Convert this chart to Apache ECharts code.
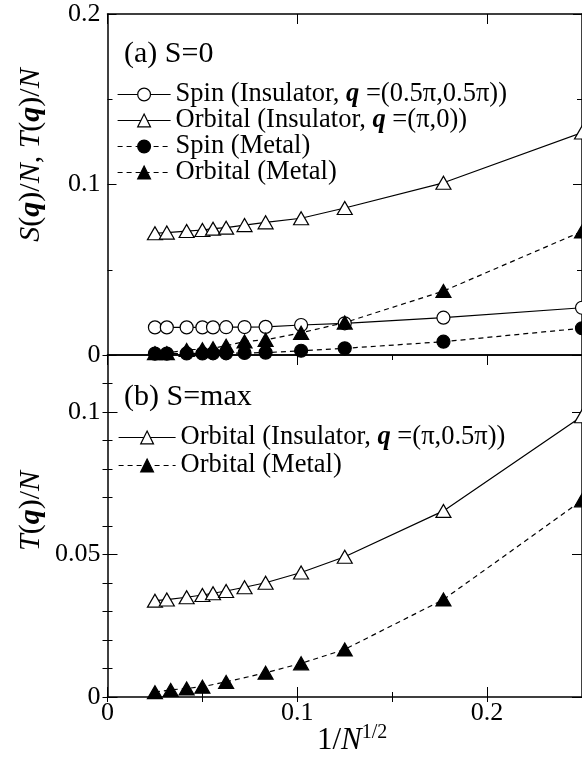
<!DOCTYPE html>
<html>
<head>
<meta charset="utf-8">
<script src="https://cdn.jsdelivr.net/npm/echarts@6/dist/echarts.min.js"></script>
<style>
  html, body { margin: 0; padding: 0; background: #fff; }
  #chart { width: 582px; height: 761px; }
</style>
</head>
<body>
<div id="chart"></div>
<script>
// ---- data: structure factors vs 1/sqrt(N) ----
// lattice sizes as 1/N^{1/2}
const invSqrtN = [0.025, 0.03125, 0.0417, 0.05, 0.0556, 0.0625, 0.0722, 0.0833, 0.102, 0.125, 0.177, 0.25];
const invSqrtNMetalB = [0.025, 0.0333, 0.0417, 0.05, 0.0625, 0.0833, 0.102, 0.125, 0.177, 0.25];

// (a) S=0
const spinInsulatorA = [0.0162, 0.0162, 0.0162, 0.0162, 0.0162, 0.0163, 0.0164, 0.0165, 0.0176, 0.0186, 0.0219, 0.0277];
const orbitalInsulatorA = [0.0714, 0.0718, 0.0727, 0.0733, 0.0741, 0.0747, 0.0762, 0.0778, 0.0802, 0.0862, 0.101, 0.1305];
const spinMetalA = [0.0008, 0.0008, 0.0009, 0.0009, 0.001, 0.001, 0.0012, 0.0014, 0.0025, 0.0039, 0.0078, 0.0157];
const orbitalMetalA = [0.0011, 0.0011, 0.003, 0.0034, 0.004, 0.0054, 0.0079, 0.0089, 0.013, 0.019, 0.0375, 0.0725];

// (b) S=max
const orbitalInsulatorB = [0.0338, 0.0342, 0.035, 0.0358, 0.0364, 0.0372, 0.0385, 0.0401, 0.0437, 0.0492, 0.0653, 0.0985];
const orbitalMetalB = [0.0017, 0.0025, 0.003, 0.0036, 0.0053, 0.0085, 0.0118, 0.0167, 0.0342, 0.069];

// axis ranges
const xMax = 0.25;
const yMaxA = 0.2;
const yMaxB = 0.12;

// ---- styling ----
const FONT = 'Liberation Serif';
const INK = '#000';
const AXIS_W = 1.5;
const LINE_W = 1.2;
const DASH = [5, 4];
const LEGEND_SIZE = 26.5;
const TICK_SIZE = 26;

const pairs = (xs, ys) => xs.map((x, i) => [x, ys[i]]);

const legendText = {
  spinInsA: '{t|Spin (Insulator, }{q|q}{t| =(0.5π,0.5π))}',
  orbInsA: '{t|Orbital (Insulator, }{q|q}{t| =(π,0))}',
  spinMetA: '{t|Spin (Metal)}',
  orbMetA: '{t|Orbital (Metal)}',
  orbInsB: '{t|Orbital (Insulator, }{q|q}{t| =(π,0.5π))}',
  orbMetB: '{t|Orbital (Metal)}'
};

const legendRich = {
  t: { fontFamily: FONT, fontSize: LEGEND_SIZE, color: INK, lineHeight: 22 },
  q: { fontFamily: FONT, fontSize: LEGEND_SIZE, color: INK, lineHeight: 22, fontStyle: 'italic', fontWeight: 'bold' }
};

function mkLegend(names, left, top, itemWidth, gap) {
  return {
    data: names,
    orient: 'vertical',
    left: left,
    top: top,
    padding: 0,
    itemWidth: itemWidth,
    itemHeight: 16,
    itemGap: gap,
    selectedMode: false,
    itemStyle: { borderWidth: LINE_W },
    lineStyle: { width: LINE_W },
    formatter: (name) => legendText[name],
    textStyle: { fontFamily: FONT, fontSize: LEGEND_SIZE, color: INK, lineHeight: 22, rich: legendRich }
  };
}

// axis helpers: one axis per tick length so majors and minors differ
function xAx(grid, position, interval, tickLen, opts) {
  return Object.assign({
    type: 'value', gridIndex: grid, position: position,
    min: 0, max: xMax, interval: interval,
    axisLine: { show: true, onZero: false, lineStyle: { color: INK, width: AXIS_W } },
    axisTick: { show: tickLen > 0, inside: true, length: tickLen, lineStyle: { color: INK, width: 1 } },
    axisLabel: { show: false },
    splitLine: { show: false }
  }, opts || {});
}
function yAx(grid, position, max, interval, tickLen, opts) {
  return Object.assign({
    type: 'value', gridIndex: grid, position: position,
    min: 0, max: max, interval: interval,
    axisLine: { show: true, onZero: false, lineStyle: { color: INK, width: AXIS_W } },
    axisTick: { show: true, inside: true, length: tickLen, lineStyle: { color: INK, width: 1 } },
    axisLabel: { show: false },
    splitLine: { show: false }
  }, opts || {});
}

const tickLabel = { show: true, color: INK, fontFamily: FONT, fontSize: TICK_SIZE, showMaxLabel: false };

const xAxes = [
  // top panel
  xAx(0, 'bottom', 0.1, 0),
  xAx(0, 'top', 0.1, 10),
  xAx(0, 'top', 0.05, 5, { axisLine: { show: false } }),
  // bottom panel
  xAx(1, 'bottom', 0.1, 10, { axisLabel: Object.assign({}, tickLabel, { margin: 3 }) }),
  xAx(1, 'bottom', 0.05, 5, { axisLine: { show: false } }),
  xAx(1, 'top', 0.1, 10),
  xAx(1, 'top', 0.05, 5, { axisLine: { show: false } })
];

const yAxes = [
  // top panel
  yAx(0, 'left', yMaxA, 0.1, 9, {
    minorTick: { show: true, splitNumber: 2, length: 5, lineStyle: { color: INK, width: 1 } },
    axisLabel: Object.assign({}, tickLabel, { margin: 7, showMaxLabel: true })
  }),
  yAx(0, 'right', yMaxA, 0.1, 9, {
    minorTick: { show: true, splitNumber: 2, length: 5, lineStyle: { color: INK, width: 1 } }
  }),
  // bottom panel
  yAx(1, 'left', yMaxB, 0.05, 10, { axisLabel: Object.assign({}, tickLabel, { margin: 7 }) }),
  yAx(1, 'left', yMaxB, 0.01, 5, { axisLine: { show: false } }),
  yAx(1, 'right', yMaxB, 0.05, 10),
  yAx(1, 'right', yMaxB, 0.01, 5, { axisLine: { show: false } })
];

function mkSeries(name, xIdx, yIdx, data, symbol, filled, dashed) {
  return {
    name: name,
    type: 'line',
    xAxisIndex: xIdx,
    yAxisIndex: yIdx,
    data: data,
    symbol: symbol,
    symbolSize: symbol === 'triangle' ? [15, 13] : 13,
    showAllSymbol: true,
    lineStyle: { color: INK, width: LINE_W, type: dashed ? DASH : 'solid' },
    itemStyle: { color: filled ? INK : '#fff', borderColor: INK, borderWidth: LINE_W },
    emphasis: { disabled: true },
    animation: false
  };
}

const series = [
  mkSeries('spinInsA', 0, 0, pairs(invSqrtN, spinInsulatorA), 'circle', false, false),
  mkSeries('orbInsA', 0, 0, pairs(invSqrtN, orbitalInsulatorA), 'triangle', false, false),
  mkSeries('spinMetA', 0, 0, pairs(invSqrtN, spinMetalA), 'circle', true, true),
  mkSeries('orbMetA', 0, 0, pairs(invSqrtN, orbitalMetalA), 'triangle', true, true),
  mkSeries('orbInsB', 3, 2, pairs(invSqrtN, orbitalInsulatorB), 'triangle', false, false),
  mkSeries('orbMetB', 3, 2, pairs(invSqrtNMetalB, orbitalMetalB), 'triangle', true, true)
];

const titleRich = {
  i: { fontFamily: FONT, fontSize: 30, fontStyle: 'italic', fill: INK },
  r: { fontFamily: FONT, fontSize: 30, fill: INK },
  q: { fontFamily: FONT, fontSize: 30, fontStyle: 'italic', fontWeight: 'bold', fill: INK }
};

const panelTitleStyle = { fontFamily: FONT, fontSize: 30, fontWeight: 'normal', color: INK };

const option = {
  animation: false,
  backgroundColor: '#fff',
  grid: [
    { left: 107.5, top: 14, width: 477.5, height: 341 },
    { left: 107.5, top: 355, width: 477.5, height: 342 }
  ],
  title: [
    { text: '(a) S=0', left: 124, top: 39, padding: 0, textStyle: panelTitleStyle },
    { text: '(b) S=max', left: 124, top: 382, padding: 0, textStyle: panelTitleStyle }
  ],
  legend: [
    mkLegend(['spinInsA', 'orbInsA', 'spinMetA', 'orbMetA'], 117, 81, 53, -1),
    mkLegend(['orbInsB', 'orbMetB'], 118, 424, 57, 1)
  ],
  xAxis: xAxes,
  yAxis: yAxes,
  series: series,
  graphic: [
    {
      type: 'text', x: 31, y: 155, rotation: Math.PI / 2,
      style: {
        text: '{i|S}{r|(}{q|q}{r|)/}{i|N}{r|, }{i|T}{r|(}{q|q}{r|)/}{i|N}',
        rich: titleRich, align: 'center', verticalAlign: 'middle', fill: INK
      }
    },
    {
      type: 'text', x: 31, y: 511, rotation: Math.PI / 2,
      style: {
        text: '{i|T}{r|(}{q|q}{r|)/}{i|N}',
        rich: titleRich, align: 'center', verticalAlign: 'middle', fill: INK
      }
    },
    {
      type: 'text', x: 317, y: 723,
      style: {
        text: '{n|1/}{i|N}{s|1/2}',
        rich: {
          n: { fontFamily: FONT, fontSize: 31, lineHeight: 36, fill: INK },
          i: { fontFamily: FONT, fontSize: 31, lineHeight: 36, fontStyle: 'italic', fill: INK },
          s: { fontFamily: FONT, fontSize: 20, lineHeight: 14, verticalAlign: 'top', fill: INK }
        },
        align: 'left', verticalAlign: 'top', fill: INK
      }
    }
  ]
};

const chart = echarts.init(document.getElementById('chart'), null, { renderer: 'canvas' });
chart.setOption(option);
</script>
</body>
</html>
